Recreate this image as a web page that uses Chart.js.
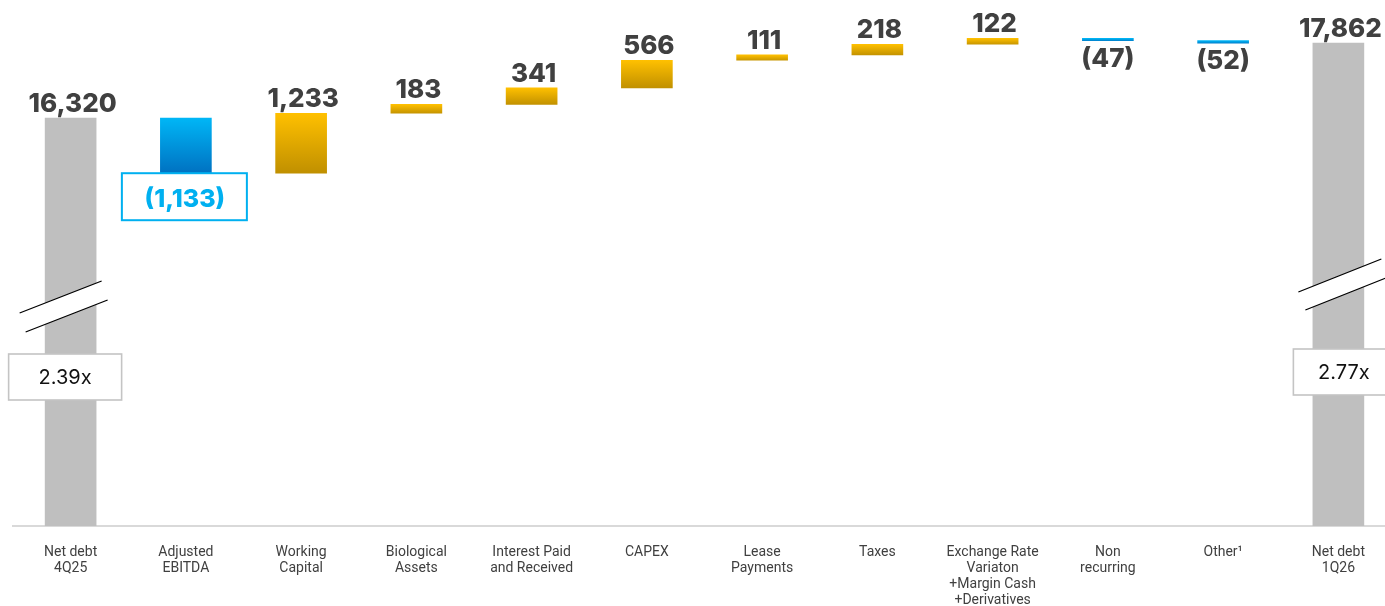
<!DOCTYPE html>
<html>
<head>
<meta charset="utf-8">
<script src="https://cdn.jsdelivr.net/npm/chart.js@4.4.1/dist/chart.umd.min.js"></script>
<style>
  body { margin: 0; background: #fff; overflow: hidden; }
  canvas { display: block; }
</style>
</head>
<body>
<canvas id="netDebtChart" width="1400" height="606"></canvas>
<script>
const categories = [
  ['Net debt', '4Q25'], ['Adjusted', 'EBITDA'], ['Working', 'Capital'], ['Biological', 'Assets'],
  ['Interest Paid', 'and Received'], ['CAPEX'], ['Lease', 'Payments'], ['Taxes'],
  ['Exchange Rate', 'Variaton', '+Margin Cash', '+Derivatives'], ['Non', 'recurring'], ['Other¹'],
  ['Net debt', '1Q26']
];
const openingDebt = 16320;
const closingDebt = 17862;
const movements = [-1133, 1233, 183, 341, 566, 111, 218, 122, -47, -52];
const leverage = ['2.39x', '2.77x'];

// axis is broken, so the total bars start from this floor
const axisMin = 7930;
const axisMax = 18750;

const ranges = [[axisMin, openingDebt]];
let running = openingDebt;
movements.forEach(m => {
  ranges.push([running, running + m]);
  running += m;
});
ranges.push([axisMin, closingDebt]);
const labelValues = [openingDebt, ...movements, closingDebt];
const lastIdx = labelValues.length - 1;

function fmt(v) {
  const s = Math.abs(v).toLocaleString('en-US');
  return v < 0 ? '(' + s + ')' : s;
}

function barFill(ctx) {
  if (ctx.type !== 'data') return '#bfbfbf';
  const i = ctx.dataIndex;
  if (i === 0 || i === lastIdx) return '#bfbfbf';
  const colors = labelValues[i] >= 0 ? ['#ffc000', '#bf8f00'] : ['#00b6f6', '#0070c0'];
  const chart = ctx.chart;
  const y = chart.scales.y;
  if (!y || !chart.chartArea) return colors[0];
  const r = ranges[i];
  const top = y.getPixelForValue(Math.max(r[0], r[1]));
  const bottom = y.getPixelForValue(Math.min(r[0], r[1]));
  const g = chart.ctx.createLinearGradient(0, top, 0, bottom + 1);
  g.addColorStop(0, colors[0]);
  g.addColorStop(1, colors[1]);
  return g;
}

const decorations = {
  id: 'decorations',
  afterDatasetsDraw(chart) {
    const c = chart.ctx;
    const bars = chart.getDatasetMeta(0).data;
    c.save();

    // axis break marks on the two total bars
    const breaks = [
      { bar: bars[0], x1: -51, y1: 313, x2: 31, y2: 281, dx: 6, dy: 19 },
      { bar: bars[lastIdx], x1: -40, y1: 292, x2: 43, y2: 259, dx: 7, dy: 18 }
    ];
    breaks.forEach(b => {
      const x = b.bar.x;
      c.fillStyle = '#ffffff';
      c.beginPath();
      c.moveTo(x + b.x1, b.y1);
      c.lineTo(x + b.x2, b.y2);
      c.lineTo(x + b.x2 + b.dx, b.y2 + b.dy);
      c.lineTo(x + b.x1 + b.dx, b.y1 + b.dy);
      c.closePath();
      c.fill();
      c.strokeStyle = '#000000';
      c.lineWidth = 1.3;
      c.beginPath();
      c.moveTo(x + b.x1, b.y1);
      c.lineTo(x + b.x2, b.y2);
      c.moveTo(x + b.x1 + b.dx, b.y1 + b.dy);
      c.lineTo(x + b.x2 + b.dx, b.y2 + b.dy);
      c.stroke();
    });

    // leverage boxes
    const boxes = [
      { bar: bars[0], left: -62, top: 354, w: 113, h: 46, text: leverage[0] },
      { bar: bars[lastIdx], left: -45, top: 349, w: 101, h: 46, text: leverage[1] }
    ];
    c.font = '400 20px Inter, "Noto Sans", sans-serif';
    c.textAlign = 'center';
    c.textBaseline = 'middle';
    boxes.forEach(b => {
      const bx = b.bar.x + b.left;
      c.fillStyle = '#ffffff';
      c.fillRect(bx, b.top, b.w, b.h);
      c.strokeStyle = '#c4c4c4';
      c.lineWidth = 1.6;
      c.strokeRect(bx, b.top, b.w, b.h);
      c.fillStyle = '#111111';
      c.fillText(b.text, bx + b.w / 2, b.top + b.h / 2 + 1);
    });

    // value labels
    bars.forEach((bar, i) => {
      const v = labelValues[i];
      const top = Math.min(bar.y, bar.base);
      const bottom = Math.max(bar.y, bar.base);
      c.textAlign = 'center';
      c.textBaseline = 'alphabetic';
      if (i === 1) {
        const bx = bar.x - 64;
        c.fillStyle = '#ffffff';
        c.fillRect(bx, bottom, 125, 47);
        c.strokeStyle = '#00b0f0';
        c.lineWidth = 2;
        c.strokeRect(bx, bottom, 125, 47);
        c.font = '800 25px Inter, "Noto Sans", sans-serif';
        c.fillStyle = '#00b0f0';
        c.fillText(fmt(v), bar.x - 1, bottom + 34);
      } else {
        c.font = '800 26px Inter, "Noto Sans", sans-serif';
        c.fillStyle = '#404040';
        if (v < 0) {
          c.fillText(fmt(v), bar.x, bottom + 26);
        } else {
          c.fillText(fmt(v), bar.x + 2, top - 6);
        }
      }
    });
    c.restore();
  }
};

new Chart(document.getElementById('netDebtChart'), {
  type: 'bar',
  data: {
    labels: categories,
    datasets: [{
      data: ranges,
      backgroundColor: barFill,
      borderWidth: 0,
      barThickness: 51
    }]
  },
  options: {
    responsive: false,
    animation: false,
    layout: { padding: { left: 13, right: 4, top: 0, bottom: 0 } },
    plugins: {
      legend: { display: false },
      tooltip: { enabled: false }
    },
    scales: {
      x: {
        grid: { display: false },
        border: { display: true, color: '#d9d9d9', width: 2 },
        ticks: {
          color: '#404040',
          font: { family: 'Roboto', size: 14, lineHeight: 1.15 },
          padding: 10,
          autoSkip: false,
          maxRotation: 0
        },
        afterFit(scale) { scale.height = 80; }
      },
      y: {
        display: false,
        min: axisMin,
        max: axisMax
      }
    }
  },
  plugins: [decorations]
});
</script>
</body>
</html>
